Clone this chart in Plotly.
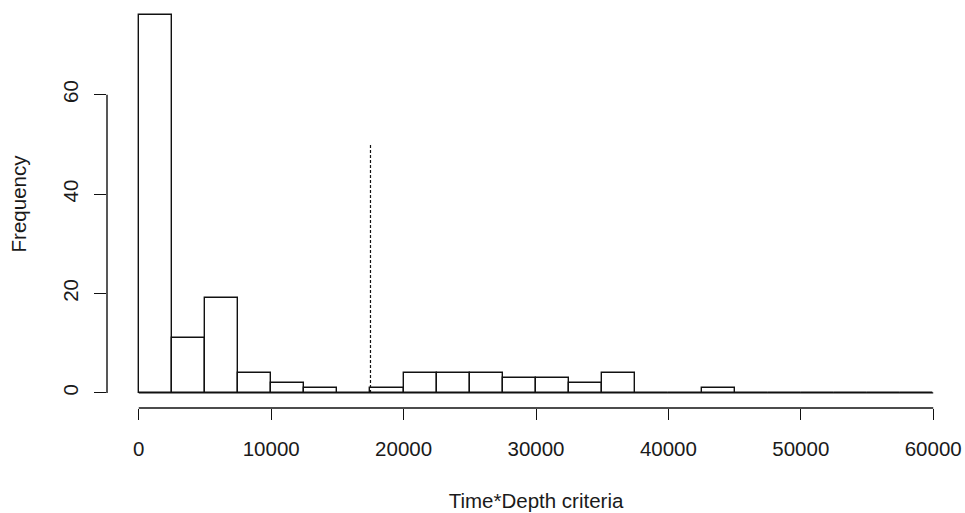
import plotly.graph_objects as go

# Histogram data (bin width 2500, from 0 to 60000)
bin_edges = [i * 2500 for i in range(25)]
counts = [76, 11, 19, 4, 2, 1, 0, 1, 4, 4, 4, 3, 3, 2, 4, 0, 0, 1, 0, 0, 0, 0, 0, 0]
x_ticks = [0, 10000, 20000, 30000, 40000, 50000, 60000]
y_ticks = [0, 20, 40, 60]
cutoff_x = 17500
cutoff_top = 50
x_title = "Time*Depth criteria"
y_title = "Frequency"

centers = [(bin_edges[i] + bin_edges[i + 1]) / 2 for i in range(len(counts))]
widths = [bin_edges[i + 1] - bin_edges[i] for i in range(len(counts))]

xr = [bin_edges[0] - 0.04 * (bin_edges[-1] - bin_edges[0]), bin_edges[-1] + 0.04 * (bin_edges[-1] - bin_edges[0])]
ymax = max(counts)
yr = [-0.04 * ymax, ymax * 1.04]

font = dict(family="Liberation Sans, Arial, sans-serif", size=20.5, color="#1a1a1a")

fig = go.Figure()
fig.add_trace(go.Bar(
    x=centers, y=counts, width=widths,
    marker=dict(color="white", line=dict(color="#111", width=1.4)),
    hoverinfo="skip",
))
# baseline of zero-height bins
fig.add_trace(go.Scatter(
    x=[bin_edges[0], bin_edges[-1]], y=[0, 0], mode="lines",
    line=dict(color="#111", width=1.4), hoverinfo="skip",
))
# dashed cutoff line
fig.add_trace(go.Scatter(
    x=[cutoff_x, cutoff_x], y=[0, cutoff_top], mode="lines",
    line=dict(color="#111", width=1.2, dash="3px,2px"), hoverinfo="skip",
))

fig.add_shape(type="line", xref="x", yref="paper", x0=x_ticks[0], x1=x_ticks[-1], y0=0, y1=0,
              line=dict(color="#111", width=1.4))
fig.add_shape(type="line", xref="paper", yref="y", x0=0, x1=0, y0=y_ticks[0], y1=y_ticks[-1],
              line=dict(color="#111", width=1.4))

fig.update_layout(
    width=965, height=513,
    margin=dict(l=107, r=0, t=0, b=105, autoexpand=False),
    paper_bgcolor="white", plot_bgcolor="white",
    showlegend=False, bargap=0,
    font=font,
    xaxis=dict(range=xr, tickvals=x_ticks, ticktext=[str(v) for v in x_ticks],
               ticks="outside", ticklen=11, tickwidth=1.4, tickcolor="#111",
               ticklabelstandoff=11,
               showgrid=False, zeroline=False, showline=False, automargin=False,
               title=dict(text=x_title, font=dict(size=20.5), standoff=35)),
    yaxis=dict(range=yr, tickvals=y_ticks, ticktext=[str(v) for v in y_ticks],
               ticks="outside", ticklen=12, tickwidth=1.4, tickcolor="#111",
               tickangle=-90, automargin=False, ticklabelstandoff=8,
               showgrid=False, zeroline=False, showline=False,
               title=dict(text=y_title, font=dict(size=20.5), standoff=26)),
)

fig.write_html("out.html", config={"displayModeBar": False},
               post_script="document.body.style.margin='0';document.body.style.overflow='hidden';")
